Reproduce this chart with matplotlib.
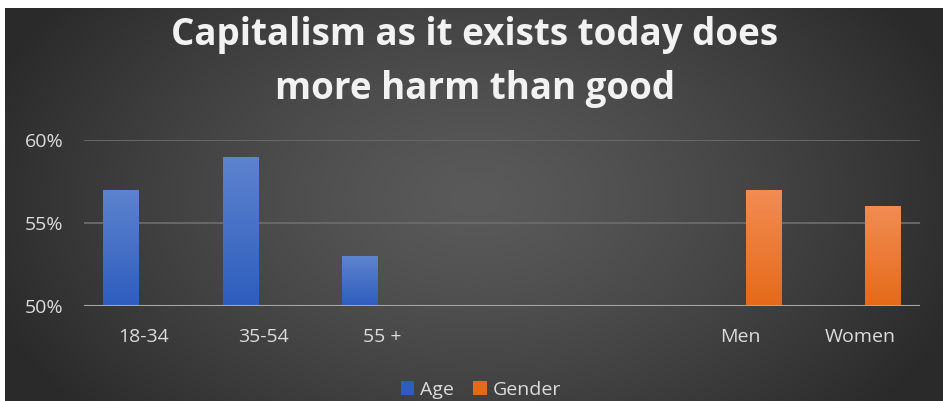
import numpy as np
import matplotlib
matplotlib.use("Agg")
import matplotlib.pyplot as plt
from matplotlib.ticker import FuncFormatter

categories = ["18-34", "35-54", "55 +", "", "", "Men", "Women"]
age_values = [57, 59, 53, np.nan, np.nan, np.nan, np.nan]
gender_values = [np.nan, np.nan, np.nan, np.nan, np.nan, 57, 56]
series_names = ["Age", "Gender"]
yticks = [50, 55, 60]
title = "Capitalism as it exists today does\nmore harm than good"

W, H = 943, 401
fig = plt.figure(figsize=(W / 100, H / 100), dpi=100)
fig.patch.set_facecolor("white")

# background with radial gradient
bg = fig.add_axes([5 / W, 0, 1 - 5 / W, 1 - 8 / H])
bg.set_axis_off()
yy, xx = np.mgrid[0:393, 0:938]
cx, cy = 470, 190
r = np.sqrt(((xx - cx) / 520.0) ** 2 + ((yy - cy) / 330.0) ** 2)
light = np.array([0x5a, 0x5a, 0x5a]) / 255
dark = np.array([0x2a, 0x2a, 0x2a]) / 255
t = np.clip(r, 0, 1)[..., None] ** 1.3
img = light * (1 - t) + dark * t
bg.imshow(img, aspect="auto", extent=[0, 1, 0, 1], interpolation="bilinear")
bg.set_xlim(0, 1)
bg.set_ylim(0, 1)

ax = fig.add_axes([84 / W, 1 - 306 / H, (920 - 84) / W, (306 - 140) / H])
ax.patch.set_alpha(0)
font = "Open Sans"

x = np.arange(len(categories))
width = 0.30
off = 0.19
colors = [("#5e84cf", "#2e5dbd"), ("#f18c54", "#e56a18")]
handles = []
for i, (vals, name) in enumerate(zip([age_values, gender_values], series_names)):
    o = -off if i == 0 else off
    bars = ax.bar(x + o, vals, width, bottom=0, color=colors[i][1], label=name, zorder=3)
    handles.append(bars)
    top_c = np.array(matplotlib.colors.to_rgb(colors[i][0]))
    bot_c = np.array(matplotlib.colors.to_rgb(colors[i][1]))
    for b in bars:
        h = b.get_height()
        if not np.isfinite(h):
            continue
        x0, w_ = b.get_x(), b.get_width()
        g = np.linspace(0, 1, 100)[:, None, None]
        grad = top_c * (1 - g) + bot_c * g
        im = ax.imshow(grad, aspect="auto", extent=[x0, x0 + w_, 50, h], zorder=4,
                       interpolation="bilinear")
        im.set_clip_path(b)

ax.set_xlim(-0.5, len(categories) - 0.5)
ax.set_ylim(50, 60)
ax.set_yticks(yticks)
ax.yaxis.set_major_formatter(FuncFormatter(lambda v, p: f"{v:.0f}%"))
ax.set_xticks(x)
ax.set_xticklabels(categories)
for s in ax.spines.values():
    s.set_visible(False)
ax.tick_params(axis="both", length=0, colors="#dcdcdc", labelsize=14)
ax.tick_params(axis="y", pad=15)
ax.tick_params(axis="x", pad=16)
for lab in ax.get_xticklabels() + ax.get_yticklabels():
    lab.set_fontfamily(font)
for v in yticks[1:]:
    ax.axhline(v, color="#6b6b6b", lw=1.3, zorder=1)
ax.axhline(50, color="#a6a6a6", lw=1.5, zorder=5)

fig.text(475 / W, 1 - 62 / H, title, ha="center", va="center", color="#f2f2f2",
         fontsize=26.5, fontweight="bold", fontfamily=font, linespacing=1.55)

leg = fig.legend(handles=handles, labels=series_names, loc="center",
                 bbox_to_anchor=(481 / W, 1 - 390 / H), ncol=2, frameon=False,
                 handlelength=0.7, handleheight=0.7, handletextpad=0.3, columnspacing=1.0,
                 prop={"family": font, "size": 14})
for t_ in leg.get_texts():
    t_.set_color("#dcdcdc")

fig.savefig("out.png", dpi=100, facecolor=fig.get_facecolor())
